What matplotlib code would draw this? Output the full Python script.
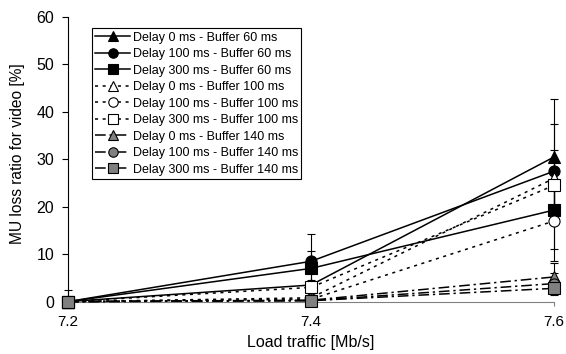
import numpy as np
import matplotlib
matplotlib.use('Agg')
import matplotlib.pyplot as plt

plt.rcParams['font.family'] = ['Liberation Sans', 'DejaVu Sans']

# load traffic [Mb/s]
load = [7.2, 7.4, 7.6]

# MU loss ratio [%] and error (one series per delay / buffer combo)
d0_b60 = [0.0, 3.5, 30.5]
d100_b60 = [0.0, 8.5, 27.5]
d300_b60 = [0.0, 7.0, 19.3]
d0_b100 = [0.0, 0.8, 26.0]
d100_b100 = [0.0, 0.5, 17.0]
d300_b100 = [0.0, 3.0, 24.5]
d0_b140 = [0.0, 0.3, 5.2]
d100_b140 = [0.0, 0.2, 3.8]
d300_b140 = [0.0, 0.2, 2.8]

err_d0_b60 = [2.5, 1.0, 12.3]
err_d100_b60 = [0.0, 5.7, 10.0]
err_d300_b60 = [0.0, 3.6, 8.3]
err_d0_b100 = [0.0, 0.5, 6.0]
err_d100_b100 = [0.0, 0.4, 8.5]
err_d300_b100 = [0.0, 1.0, 5.0]
err_d0_b140 = [0.0, 0.3, 3.0]
err_d100_b140 = [0.0, 0.2, 2.2]
err_d300_b140 = [0.0, 0.2, 1.5]

labels = ['Delay 0 ms - Buffer 60 ms', 'Delay 100 ms - Buffer 60 ms',
          'Delay 300 ms - Buffer 60 ms', 'Delay 0 ms - Buffer 100 ms',
          'Delay 100 ms - Buffer 100 ms', 'Delay 300 ms - Buffer 100 ms',
          'Delay 0 ms - Buffer 140 ms', 'Delay 100 ms - Buffer 140 ms',
          'Delay 300 ms - Buffer 140 ms']

series = [d0_b60, d100_b60, d300_b60, d0_b100, d100_b100, d300_b100,
          d0_b140, d100_b140, d300_b140]
errors = [err_d0_b60, err_d100_b60, err_d300_b60, err_d0_b100, err_d100_b100,
          err_d300_b100, err_d0_b140, err_d100_b140, err_d300_b140]

markers = ['^', 'o', 's'] * 3
solid = '-'
dotted = (0, (2, 3))
dashdot = (0, (7, 2.5, 1.5, 2.5))
styles = [solid] * 3 + [dotted] * 3 + [dashdot] * 3
faces = ['black'] * 3 + ['white'] * 3 + ['#808080'] * 3

fig = plt.figure(figsize=(5.66, 3.54), dpi=100)
ax = fig.add_axes([0.120, 0.148, 0.859, 0.804])

for y, e, lab, m, ls, fc in zip(series, errors, labels, markers, styles, faces):
    # no error below zero
    lower = np.minimum(e, y)
    ax.errorbar(load, y, yerr=[lower, e], color='black', linestyle=ls,
                linewidth=1.1, marker=m, markersize=8, markerfacecolor=fc,
                markeredgecolor='black', markeredgewidth=0.8,
                ecolor='black', elinewidth=0.8, capsize=3, label=lab,
                clip_on=False, zorder=3)

ax.set_xlim(7.2, 7.6)
ax.set_ylim(0, 60)
ax.set_xticks([7.2, 7.4, 7.6])
ax.set_yticks(np.arange(0, 61, 10))
ax.spines['top'].set_visible(False)
ax.spines['right'].set_visible(False)
ax.spines['bottom'].set_color('#808080')
ax.tick_params(axis='x', direction='out', length=3, color='#808080',
               labelsize=11, pad=7)
ax.tick_params(axis='y', direction='out', length=4, labelsize=11.5, pad=6)
ax.set_xlabel('Load traffic [Mb/s]', fontsize=11.5, labelpad=4)
ax.set_ylabel('MU loss ratio for video [%]', fontsize=11.2)
ax.yaxis.set_label_coords(-0.088, 0.52)

# legend entries without error bars
handles, labs = ax.get_legend_handles_labels()
handles = [h[0] for h in handles]
leg = ax.legend(handles, labs, loc='upper left', bbox_to_anchor=(0.05, 0.96),
                fontsize=9, frameon=True, fancybox=False, edgecolor='black',
                framealpha=1, handlelength=2.8, handletextpad=0.2,
                labelspacing=0.36, borderpad=0.25, borderaxespad=0,
                markerscale=0.85)
leg.get_frame().set_linewidth(0.8)

fig.savefig('out.png', dpi=100)
